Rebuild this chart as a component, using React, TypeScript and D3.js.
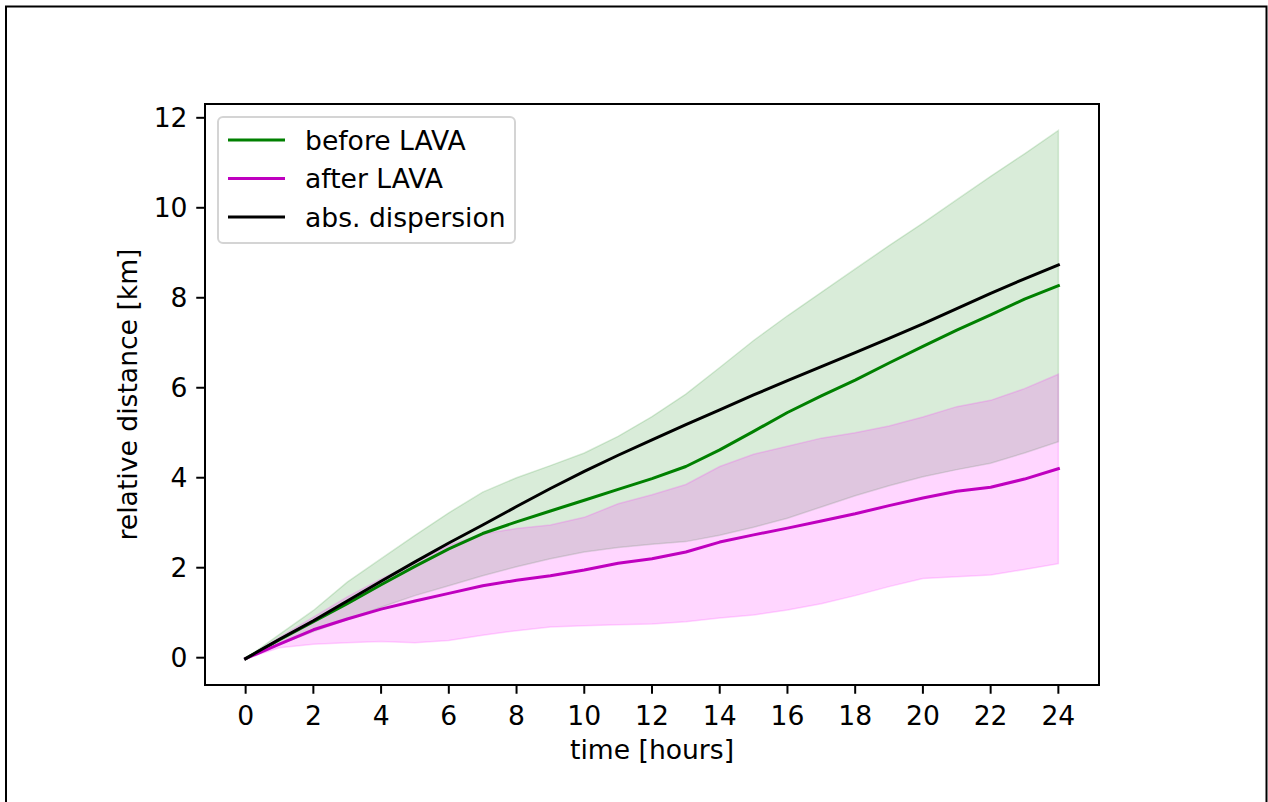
import React, {useEffect, useRef} from 'react';
import * as d3 from 'd3';

const hours = d3.range(0, 25);

// before LAVA: mean and +/- spread
const beforeMean = [-0.02, 0.4, 0.8, 1.2, 1.62, 2.03, 2.42, 2.76, 3.02, 3.26, 3.5, 3.74, 3.98, 4.25, 4.62, 5.03, 5.45, 5.82, 6.17, 6.55, 6.92, 7.28, 7.62, 7.97, 8.27];
const beforeUpper = [-0.02, 0.52, 1.05, 1.68, 2.2, 2.72, 3.22, 3.68, 4.0, 4.27, 4.55, 4.92, 5.36, 5.86, 6.45, 7.05, 7.6, 8.12, 8.64, 9.16, 9.66, 10.18, 10.7, 11.2, 11.72];
const beforeLower = [-0.02, 0.3, 0.58, 0.85, 1.12, 1.38, 1.6, 1.82, 2.02, 2.2, 2.35, 2.45, 2.52, 2.58, 2.72, 2.9, 3.1, 3.35, 3.6, 3.82, 4.02, 4.18, 4.32, 4.55, 4.8];

// after LAVA
const afterMean = [-0.02, 0.3, 0.62, 0.86, 1.08, 1.26, 1.43, 1.6, 1.72, 1.82, 1.95, 2.1, 2.2, 2.35, 2.57, 2.73, 2.88, 3.04, 3.2, 3.38, 3.55, 3.7, 3.79, 3.97, 4.2];
const afterUpper = [-0.02, 0.45, 0.9, 1.35, 1.75, 2.12, 2.5, 2.75, 2.87, 2.95, 3.12, 3.42, 3.62, 3.85, 4.25, 4.52, 4.7, 4.88, 5.0, 5.15, 5.35, 5.58, 5.72, 5.98, 6.3];
const afterLower = [-0.02, 0.22, 0.3, 0.33, 0.36, 0.33, 0.38, 0.5, 0.6, 0.68, 0.71, 0.73, 0.75, 0.8, 0.88, 0.95, 1.06, 1.2, 1.38, 1.58, 1.76, 1.8, 1.84, 1.96, 2.09];

// absolute dispersion
const absDispersion = [-0.02, 0.41, 0.82, 1.26, 1.7, 2.13, 2.55, 2.95, 3.36, 3.76, 4.14, 4.5, 4.84, 5.18, 5.51, 5.84, 6.16, 6.47, 6.78, 7.1, 7.42, 7.76, 8.1, 8.42, 8.73];

const xTicks = d3.range(0, 25, 2);
const yTicks = d3.range(0, 13, 2);

const legendItems = [
  {label: 'before LAVA', color: '#008000'},
  {label: 'after LAVA', color: '#bf00bf'},
  {label: 'abs. dispersion', color: '#000000'},
];

const W = 1268;
const H = 802;
const FONT = '"DejaVu Sans", sans-serif';
const FS = 26.6;

const App: React.FC = () => {
  const ref = useRef<SVGSVGElement | null>(null);

  useEffect(() => {
    if (!ref.current) return;
    const svg = d3.select(ref.current);
    svg.selectAll('*').remove();

    const left = 205, right = 1099, top = 104, bottom = 685;

    // matplotlib-style 5% margins
    const xPad = (d3.max(hours)! - d3.min(hours)!) * 0.05;
    const allY = [...beforeUpper, ...beforeLower, ...afterUpper, ...afterLower, ...absDispersion];
    const yMin = d3.min(allY)!, yMax = d3.max(allY)!;
    const yPad = (yMax - yMin) * 0.05;

    const x = d3.scaleLinear().domain([d3.min(hours)! - xPad, d3.max(hours)! + xPad]).range([left, right]);
    const y = d3.scaleLinear().domain([yMin - yPad, yMax + yPad]).range([bottom, top]);

    svg.append('rect')
      .attr('width', W).attr('height', H).attr('fill', '#fff');

    // outer frame
    svg.append('rect')
      .attr('x', 6).attr('y', 6.5).attr('width', 1260.5).attr('height', 900)
      .attr('fill', 'none').attr('stroke', '#000').attr('stroke-width', 2);

    const band = (upper: number[], lower: number[]) =>
      d3.area<number>()
        .x((d) => x(d))
        .y0((_, i) => y(lower[i]))
        .y1((_, i) => y(upper[i]))(hours);

    const line = (vals: number[]) =>
      d3.line<number>().x((d) => x(d)).y((_, i) => y(vals[i]))(hours);

    svg.append('path')
      .attr('d', band(beforeUpper, beforeLower))
      .attr('fill', '#008000').attr('fill-opacity', 0.15)
      .attr('stroke', '#008000').attr('stroke-opacity', 0.15).attr('stroke-width', 1.5);

    svg.append('path')
      .attr('d', band(afterUpper, afterLower))
      .attr('fill', '#ff00ff').attr('fill-opacity', 0.16)
      .attr('stroke', '#ff00ff').attr('stroke-opacity', 0.16).attr('stroke-width', 1.5);

    const series = [
      {vals: beforeMean, color: '#008000'},
      {vals: afterMean, color: '#bf00bf'},
      {vals: absDispersion, color: '#000000'},
    ];
    series.forEach((s) => {
      svg.append('path')
        .attr('d', line(s.vals))
        .attr('fill', 'none').attr('stroke', s.color)
        .attr('stroke-width', 3).attr('stroke-linejoin', 'round').attr('stroke-linecap', 'square');
    });

    // axes box
    svg.append('rect')
      .attr('x', left).attr('y', top).attr('width', right - left).attr('height', bottom - top)
      .attr('fill', 'none').attr('stroke', '#000').attr('stroke-width', 2);

    const tickLen = 8.75;
    const gx = svg.append('g');
    xTicks.forEach((t) => {
      gx.append('line')
        .attr('x1', x(t)).attr('x2', x(t)).attr('y1', bottom).attr('y2', bottom + tickLen)
        .attr('stroke', '#000').attr('stroke-width', 2);
      gx.append('text')
        .attr('x', x(t)).attr('y', bottom + 40)
        .attr('text-anchor', 'middle')
        .style('font-family', FONT).style('font-size', `${FS}px`)
        .text(t);
    });

    const gy = svg.append('g');
    yTicks.forEach((t) => {
      gy.append('line')
        .attr('x1', left - tickLen).attr('x2', left).attr('y1', y(t)).attr('y2', y(t))
        .attr('stroke', '#000').attr('stroke-width', 2);
      gy.append('text')
        .attr('x', left - tickLen - 8.75).attr('y', y(t) + 9.5)
        .attr('text-anchor', 'end')
        .style('font-family', FONT).style('font-size', `${FS}px`)
        .text(t);
    });

    svg.append('text')
      .attr('x', (left + right) / 2).attr('y', 759)
      .attr('text-anchor', 'middle')
      .style('font-family', FONT).style('font-size', `${FS}px`)
      .text('time [hours]');

    svg.append('text')
      .attr('transform', `translate(137,${(top + bottom) / 2}) rotate(-90)`)
      .attr('text-anchor', 'middle')
      .style('font-family', FONT).style('font-size', `${FS}px`)
      .text('relative distance [km]');

    // legend
    const lg = svg.append('g');
    lg.append('rect')
      .attr('x', 218).attr('y', 117).attr('width', 297).attr('height', 126).attr('rx', 5)
      .attr('fill', '#fff').attr('fill-opacity', 0.8)
      .attr('stroke', '#d4d4d4').attr('stroke-width', 2);
    legendItems.forEach((d, i) => {
      const ly = 140 + i * 38.5;
      lg.append('line')
        .attr('x1', 228).attr('x2', 285).attr('y1', ly).attr('y2', ly)
        .attr('stroke', d.color).attr('stroke-width', 3);
      lg.append('text')
        .attr('x', 305).attr('y', ly + 9.5)
        .style('font-family', FONT).style('font-size', `${FS}px`)
        .text(d.label);
    });
  }, []);

  return (
    <div style={{position: 'absolute', left: 0, top: 0}}>
      <svg ref={ref} width={W} height={H} style={{display: 'block'}}></svg>
    </div>
  );
};

export default App;
